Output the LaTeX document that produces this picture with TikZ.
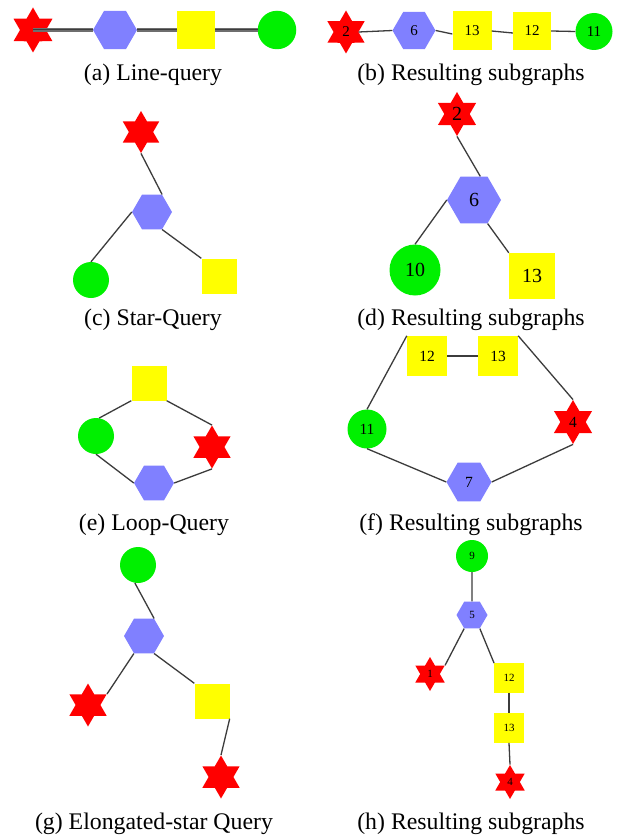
\documentclass[tikz,border=0pt]{standalone}
\usepackage{fontspec}
\setmainfont{Liberation Serif}
\usetikzlibrary{shapes.geometric}
\definecolor{qred}{RGB}{255,0,0}
\definecolor{qblue}{RGB}{128,128,255}
\definecolor{qyellow}{RGB}{255,255,0}
\definecolor{qgreen}{RGB}{0,240,0}
\definecolor{qedge}{RGB}{60,60,60}
\definecolor{qedgea}{RGB}{110,110,110}
\definecolor{qedgeacore}{RGB}{60,60,60}
\tikzset{
  starnode/.style={star, star points=6, star point ratio=1.732, fill=qred, draw=none, inner sep=0pt, minimum size=#1},
  hexnode/.style={regular polygon, regular polygon sides=6, fill=qblue, draw=none, inner sep=0pt, minimum size=#1},
  sqnode/.style={rectangle, fill=qyellow, draw=none, inner sep=0pt, minimum size=#1},
  circnode/.style={circle, fill=qgreen, draw=none, inner sep=0pt, minimum size=#1},
  lnk/.style={draw=qedge, line width=1.3pt},
  lnka/.style={draw=qedgea, line width=3.4pt, postaction={draw=qedgeacore, line width=1pt}},
  capt/.style={anchor=base, inner sep=0pt, font=\fontsize{23.8}{28}\selectfont},
  lblb/.style={font=\fontsize{15}{15}\selectfont},
  lbld/.style={font=\fontsize{20}{20}\selectfont},
  lblf/.style={font=\fontsize{15.5}{15.5}\selectfont},
  lblh/.style={font=\fontsize{11}{11}\selectfont},
}
\begin{document}
\begin{tikzpicture}[x=1pt,y=-1pt]
\fill[white] (0,0) rectangle (618,840);
\useasboundingbox (0,0) rectangle (618,840);

% (a) Line-query
\node[starnode=45] (a1) at (33,30) {};
\node[hexnode=44] (a2) at (115,30) {};
\node[sqnode=38.5] (a3) at (196,30) {};
\node[circnode=38.5] (a4) at (277,30) {};
\draw[lnka] (a1.center) -- (a2.west);
\draw[lnka] (a2.east) -- (a3.west);
\draw[lnka] (a3.east) -- (a4.west);
\node[capt] (ca) at (153,81) {(a) Line-query};

% (b) Resulting subgraphs
\node[starnode=43, lblb] (b1) at (346,32) {2};
\node[hexnode=43, lblb] (b2) at (414,30.5) {6};
\node[sqnode=39, lblb] (b3) at (472,31) {13};
\node[sqnode=38, lblb] (b4) at (532,31) {12};
\node[circnode=37, lblb] (b5) at (594,31.5) {11};
\draw[lnk] (b1.east) -- (b2.west);
\draw[lnk] (b2.east) -- ([yshift=-3pt]b3.west);
\draw[lnk] (b3.east) -- ([yshift=-2pt]b4.west);
\draw[lnk] (b4.east) -- (b5.west);
\node[capt] (cb) at (471,81) {(b) Resulting subgraphs};

% (c) Star-Query
\node[starnode=42] (c1) at (141,132) {};
\node[hexnode=40] (c2) at (152,212) {};
\node[circnode=36] (c3) at (91,280) {};
\node[sqnode=35] (c4) at (219,276) {};
\draw[lnk] (c1.south) -- (c2.60);
\draw[lnk] (c2.180) -- (c3.north);
\draw[lnk] (c2.-60) -- (c4.north west);
\node[capt] (cc) at (153,325) {(c) Star-Query};

% (d) Resulting subgraphs
\node[starnode=44, lbld] (d1) at (457,114) {2};
\node[hexnode=54, lbld] (d2) at (474,200) {6};
\node[circnode=51, lbld] (d3) at (415,270) {10};
\node[sqnode=46, lbld] (d4) at (532,276) {13};
\draw[lnk] (d1.south) -- (d2.75);
\draw[lnk] (d2.180) -- (d3.north);
\draw[lnk] (d2.-60) -- (d4.north west);
\node[capt] (cd) at (471,325) {(d) Resulting subgraphs};

% (e) Loop-Query
\node[sqnode=35] (e1) at (149,383) {};
\node[circnode=36] (e2) at (96,436) {};
\node[starnode=43] (e3) at (212,447) {};
\node[hexnode=40] (e4) at (154,483) {};
\draw[lnk] (e1.south west) -- (e2.80);
\draw[lnk] (e1.south east) -- (e3.north);
\draw[lnk] (e2.south) -- (e4.180);
\draw[lnk] (e4.0) -- (e3.south);
\node[capt] (ce) at (154,530) {(e) Loop-Query};

% (f) Resulting subgraphs
\node[sqnode=40, lblf] (f1) at (427,356) {12};
\node[sqnode=40, lblf] (f2) at (498,356) {13};
\node[circnode=39, lblf] (f3) at (367,429) {11};
\node[starnode=44, lblf] (f4) at (573,422) {4};
\node[hexnode=45, lblf] (f5) at (469,482) {7};
\draw[lnk] (f1.east) -- (f2.west);
\draw[lnk] (f3.north) -- (f1.north west);
\draw[lnk] (f2.north east) -- (f4.north);
\draw[lnk] (f3.south) -- (f5.180);
\draw[lnk] (f5.0) -- (f4.south);
\node[capt] (cf) at (471,530) {(f) Resulting subgraphs};

% (g) Elongated-star Query
\node[circnode=36] (g1) at (138,565) {};
\node[hexnode=40] (g2) at (144,636) {};
\node[starnode=43] (g3) at (88,705) {};
\node[sqnode=35] (g4) at (212,701) {};
\node[starnode=43] (g5) at (221,777) {};
\draw[lnk] (g1.-100) -- (g2.60);
\draw[lnk] (g2.-120) -- (g3.30);
\draw[lnk] (g2.-60) -- (g4.north west);
\draw[lnk] (g4.south east) -- (g5.north);
\node[capt] (cg) at (154,829) {(g) Elongated-star Query};

% (h) Resulting subgraphs
\node[circnode=32, lblh] (h1) at (472,556) {9};
\node[hexnode=31, lblh] (h2) at (472,615) {5};
\node[starnode=34, lblh] (h3) at (430,674) {1};
\node[sqnode=29.5, lblh] (h4) at (509,678) {12};
\node[sqnode=29.5, lblh] (h5) at (509,728) {13};
\node[starnode=34, lblh] (h6) at (510,782) {4};
\draw[lnk] (h1.south) -- (h2.north);
\draw[lnk] (h2.-120) -- (h3.30);
\draw[lnk] (h2.-60) -- (h4.north west);
\draw[lnk] (h4.south) -- (h5.north);
\draw[lnk] (h5.south) -- (h6.north);
\node[capt] (ch) at (471,829) {(h) Resulting subgraphs};
\end{tikzpicture}
\end{document}
